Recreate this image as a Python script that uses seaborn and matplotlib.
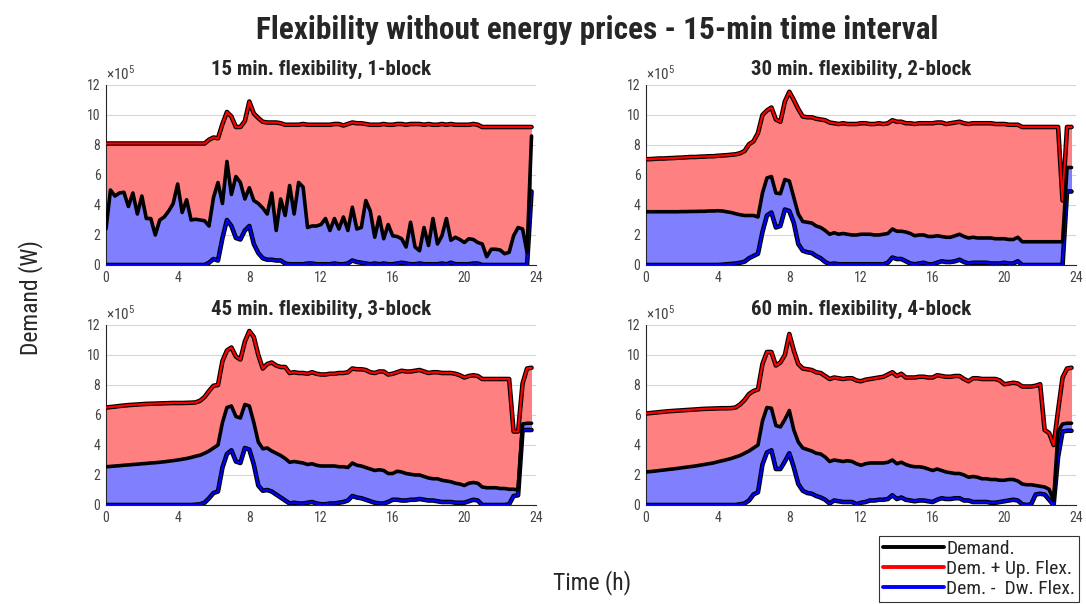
import numpy as np
import pandas as pd
import matplotlib
matplotlib.use("Agg")
import matplotlib.pyplot as plt
import matplotlib.patheffects as pe
from matplotlib import font_manager
from matplotlib.lines import Line2D
import seaborn as sns

# Quarter-hour time steps over one day (h)
hours = np.arange(96) * 0.25

panel_titles = [
    "15 min. flexibility, 1-block",
    "30 min. flexibility, 2-block",
    "45 min. flexibility, 3-block",
    "60 min. flexibility, 4-block",
]

# Values in units of 10^5 W, one row per hour (4 quarter-hours each)
up_1 = [
    8.1, 8.1, 8.1, 8.1,  8.1, 8.1, 8.1, 8.1,  8.1, 8.1, 8.1, 8.1,  8.1, 8.1, 8.1, 8.1,
    8.1, 8.1, 8.1, 8.1,  8.1, 8.1, 8.1, 8.35, 8.5, 8.45, 9.4, 10.2, 9.9, 9.2, 9.2, 9.6,
    10.9, 10.1, 9.8, 9.55, 9.5, 9.5, 9.5, 9.45, 9.35, 9.35, 9.35, 9.35, 9.4, 9.35, 9.35, 9.35,
    9.35, 9.35, 9.35, 9.4, 9.4, 9.3, 9.4, 9.5, 9.45, 9.45, 9.4, 9.35, 9.35, 9.35, 9.4, 9.35,
    9.35, 9.4, 9.4, 9.35, 9.4, 9.4, 9.4, 9.35, 9.4, 9.35, 9.35, 9.4, 9.35, 9.4, 9.35, 9.35,
    9.35, 9.35, 9.4, 9.35, 9.2, 9.2, 9.2, 9.2, 9.2, 9.2, 9.2, 9.2, 9.2, 9.2, 9.2, 9.2,
]
demand_1 = [
    2.4, 5.0, 4.6, 4.8,  4.85, 3.9, 4.8, 3.4,  4.6, 3.1, 3.1, 2.0,  3.0, 3.2, 3.6, 4.1,
    5.4, 3.5, 4.35, 3.0,  3.05, 3.0, 2.95, 2.6,  4.5, 5.5, 4.1, 6.9,  4.7, 5.9, 5.5, 4.4,
    5.15, 4.3, 4.1, 3.8,  3.4, 4.8, 2.3, 4.4,  3.3, 5.3, 3.4, 5.5,  5.2, 2.5, 2.6, 2.6,
    2.7, 3.1, 2.3, 3.1,  2.4, 3.2, 2.3, 3.85,  2.4, 2.5, 4.3, 3.6,  1.85, 3.2, 1.75, 2.7,
    1.95, 1.9, 1.75, 1.2,  2.85, 1.2, 0.95, 2.5,  1.3, 3.1, 1.4, 1.95,  3.1, 1.65, 1.85, 1.7,
    1.5, 1.75, 1.7, 1.5,  1.4, 0.55, 1.05, 1.05,  1.0, 0.75, 0.85, 1.95,  2.5, 2.4, 0.85, 8.6,
]
down_1 = [
    0, 0, 0, 0,  0, 0, 0, 0,  0, 0, 0, 0,  0, 0, 0, 0,
    0, 0, 0, 0,  0, 0, 0, 0.15,  0.4, 0.3, 1.8, 3.0,  2.6, 1.8, 1.7, 2.3,
    2.6, 1.4, 0.8, 0.45,  0.35, 0.35, 0.3, 0.3,  0.1, 0.05, 0.05, 0.05,  0.05, 0.1, 0.1, 0.05,
    0.05, 0.05, 0.05, 0.1,  0.05, 0.05, 0.1, 0.3,  0.2, 0.15, 0.1, 0.05,  0.1, 0.05, 0.1, 0.05,
    0.05, 0.1, 0.15, 0.1,  0.05, 0.05, 0.1, 0.05,  0.05, 0.05, 0.05, 0.1,  0.05, 0.15, 0.05, 0.05,
    0.05, 0.05, 0.1, 0.1,  0, 0, 0, 0,  0, 0, 0, 0,  0, 0, 0, 4.9,
]

up_2 = [
    7.05, 7.06, 7.08, 7.1,  7.1, 7.12, 7.13, 7.15,  7.16, 7.18, 7.2, 7.2,  7.22, 7.23, 7.25, 7.25,
    7.28, 7.3, 7.32, 7.35,  7.38, 7.45, 7.6, 8.05,  8.25, 8.8, 10.0, 10.3,  10.5, 9.7, 9.55, 10.9,
    11.55, 11.0, 10.4, 9.9,  9.85, 9.85, 9.75, 9.7,  9.65, 9.5, 9.45, 9.4,  9.45, 9.4, 9.4, 9.4,
    9.45, 9.45, 9.4, 9.4,  9.45, 9.4, 9.45, 9.65,  9.55, 9.55, 9.45, 9.45,  9.4, 9.45, 9.45, 9.45,
    9.45, 9.5, 9.5, 9.4,  9.45, 9.5, 9.55, 9.45,  9.4, 9.45, 9.45, 9.45,  9.45, 9.45, 9.4, 9.4,
    9.4, 9.35, 9.35, 9.35,  9.2, 9.2, 9.2, 9.2,  9.2, 9.2, 9.2, 9.2,  9.2, 4.3, 9.2, 9.2,
]
demand_2 = [
    3.55, 3.55, 3.55, 3.55,  3.55, 3.55, 3.55, 3.55,  3.56, 3.56, 3.57, 3.57,  3.58, 3.58, 3.6, 3.6,
    3.62, 3.6, 3.55, 3.5,  3.42, 3.35, 3.3, 3.3,  3.3, 3.2, 4.8, 5.8,  5.9, 4.8, 4.75, 5.7,
    5.6, 4.5, 3.4, 2.9,  2.85, 2.8, 2.6, 2.5,  2.3, 2.05, 2.15, 2.05,  2.1, 2.05, 2.0, 2.0,
    2.05, 2.05, 2.05, 2.0,  2.0, 2.05, 2.1, 2.4,  2.25, 2.25, 2.2, 2.1,  1.95, 2.0, 2.0, 1.9,
    1.9, 1.95, 1.9, 1.85,  1.85, 1.95, 2.05, 1.9,  1.8, 1.85, 1.8, 1.8,  1.8, 1.8, 1.75, 1.75,
    1.75, 1.7, 1.7, 1.85,  1.55, 1.55, 1.55, 1.55,  1.55, 1.55, 1.55, 1.55,  1.55, 1.55, 6.5, 6.5,
]
down_2 = [
    0, 0, 0, 0,  0, 0, 0, 0,  0, 0, 0, 0,  0, 0, 0, 0,
    0.0, 0.02, 0.05, 0.07,  0.1, 0.15, 0.22, 0.45,  0.6, 0.75, 2.2, 3.3,  3.5, 2.5, 2.6, 3.7,
    3.6, 2.8, 1.4, 0.95,  0.85, 0.8, 0.6, 0.45,  0.2, 0.05, 0.1, 0.05,  0.05, 0.05, 0.05, 0.05,
    0.05, 0.05, 0.05, 0.05,  0.05, 0.05, 0.15, 0.5,  0.4, 0.4, 0.25, 0.1,  0.05, 0.1, 0.15, 0.05,
    0.05, 0.15, 0.25, 0.2,  0.2, 0.25, 0.35, 0.2,  0.1, 0.15, 0.15, 0.15,  0.15, 0.1, 0.1, 0.1,
    0.15, 0.1, 0.1, 0.25,  0, 0, 0, 0,  0, 0, 0, 0,  0, 0, 4.9, 4.9,
]

up_3 = [
    6.5, 6.53, 6.56, 6.6,  6.63, 6.66, 6.68, 6.7,  6.72, 6.74, 6.75, 6.76,  6.77, 6.78, 6.79, 6.8,
    6.8, 6.8, 6.81, 6.82,  6.84, 6.95, 7.2, 7.6,  7.95, 8.0, 9.6, 10.3,  10.5, 9.9, 9.7, 10.9,
    11.6, 11.2, 10.0, 9.1,  9.4, 9.5, 9.3, 9.2,  9.2, 8.8, 8.85, 8.8,  8.8, 8.75, 8.85, 8.75,
    8.7, 8.7, 8.75, 8.75,  8.8, 8.8, 8.85, 9.1,  9.05, 9.05, 9.0, 8.85,  8.8, 8.9, 8.9, 8.7,
    8.75, 8.85, 8.95, 8.9,  8.9, 8.95, 9.0, 8.9,  8.8, 8.85, 8.85, 8.8,  8.8, 8.8, 8.75, 8.65,
    8.5, 8.6, 8.65, 8.6,  8.4, 8.4, 8.4, 8.4,  8.4, 8.4, 8.4, 4.9,  4.9, 8.1, 9.1, 9.15,
]
demand_3 = [
    2.55, 2.57, 2.6, 2.62,  2.65, 2.67, 2.7, 2.72,  2.75, 2.77, 2.8, 2.82,  2.85, 2.88, 2.92, 2.96,
    3.0, 3.05, 3.1, 3.17,  3.25, 3.32, 3.45, 3.6,  3.8, 4.0, 5.5, 6.5,  6.6, 5.9, 5.8, 6.7,
    6.6, 5.5, 4.2, 3.75,  3.8, 3.6, 3.45, 3.3,  3.1, 2.85, 2.9, 2.85,  2.8, 2.7, 2.75, 2.65,
    2.6, 2.6, 2.6, 2.6,  2.55, 2.55, 2.5, 2.8,  2.65, 2.6, 2.5, 2.4,  2.3, 2.35, 2.3, 2.1,
    2.1, 2.25, 2.2, 2.1,  2.05, 2.0, 2.0, 1.9,  1.8, 1.75, 1.75, 1.65,  1.6, 1.55, 1.45, 1.4,
    1.3, 1.45, 1.5, 1.45,  1.2, 1.15, 1.15, 1.15,  1.1, 1.1, 1.05, 1.05,  1.0, 5.4, 5.45, 5.45,
]
down_3 = [
    0, 0, 0, 0,  0, 0, 0, 0,  0, 0, 0, 0,  0, 0, 0, 0,
    0, 0, 0, 0,  0.02, 0.05, 0.15, 0.45,  0.8, 0.9, 2.5, 3.4,  3.65, 2.9, 2.8, 3.8,
    3.7, 2.7, 1.3, 0.95,  1.0, 0.9, 0.7, 0.5,  0.3, 0.1, 0.15, 0.1,  0.1, 0.15, 0.2, 0.1,
    0.05, 0.05, 0.1, 0.1,  0.15, 0.2, 0.3, 0.6,  0.5, 0.45, 0.35, 0.25,  0.15, 0.1, 0.1, 0.2,
    0.35, 0.35, 0.3, 0.3,  0.35, 0.35, 0.4, 0.35,  0.3, 0.3, 0.25, 0.2,  0.2, 0.2, 0.15, 0.15,
    0.15, 0.25, 0.35, 0.3,  0, 0, 0, 0,  0, 0, 0.05, 0.6,  0.65, 5.0, 5.0, 5.0,
]

up_4 = [
    6.1, 6.13, 6.16, 6.19,  6.22, 6.25, 6.27, 6.29,  6.31, 6.33, 6.35, 6.37,  6.39, 6.41, 6.42, 6.43,
    6.44, 6.45, 6.45, 6.46,  6.5, 6.7, 7.0, 7.4,  7.6, 7.7, 9.4, 10.2,  10.2, 9.3, 9.5, 10.0,
    11.4, 10.3, 9.4, 9.1,  9.05, 9.0, 8.85, 8.8,  8.6, 8.4, 8.5, 8.45,  8.4, 8.45, 8.45, 8.3,
    8.25, 8.35, 8.4, 8.45,  8.5, 8.55, 8.7, 8.85,  8.6, 8.75, 8.5, 8.5,  8.5, 8.55, 8.55, 8.5,
    8.5, 8.65, 8.6, 8.55,  8.55, 8.6, 8.6, 8.4,  8.25, 8.45, 8.45, 8.4,  8.4, 8.4, 8.4, 8.3,
    8.05, 8.1, 8.15, 8.1,  7.9, 7.9, 7.9, 7.95,  8.05, 5.0, 4.8, 4.0,  6.3, 8.5, 9.1, 9.15,
]
demand_4 = [
    2.2, 2.23, 2.26, 2.3,  2.33, 2.37, 2.4, 2.44,  2.48, 2.52, 2.56, 2.6,  2.65, 2.7, 2.75, 2.8,
    2.88, 2.95, 3.02, 3.1,  3.2, 3.3, 3.45, 3.6,  3.8, 4.0, 5.6, 6.5,  6.45, 5.3, 5.2, 5.7,
    6.3, 5.0, 4.2, 3.8,  3.7, 3.6, 3.45, 3.4,  3.2, 2.9, 3.0, 2.95,  2.9, 2.95, 2.9, 2.75,
    2.65, 2.75, 2.8, 2.8,  2.8, 2.8, 2.85, 3.0,  2.75, 2.85, 2.7, 2.6,  2.55, 2.55, 2.5, 2.4,
    2.3, 2.4, 2.3, 2.2,  2.15, 2.1, 2.1, 2.0,  1.85, 1.9, 1.85, 1.75,  1.75, 1.7, 1.7, 1.65,
    1.65, 1.7, 1.7, 1.6,  1.4, 1.35, 1.35, 1.3,  1.25, 1.2, 1.05, 0.3,  4.9, 5.4, 5.45, 5.45,
]
down_4 = [
    0, 0, 0, 0,  0, 0, 0, 0,  0, 0, 0, 0,  0, 0, 0, 0,
    0, 0, 0, 0,  0.0, 0.05, 0.1, 0.3,  0.7, 0.85, 2.7, 3.5,  3.65, 2.4, 2.4, 2.9,
    3.45, 2.5, 1.4, 0.95,  0.8, 0.75, 0.6, 0.5,  0.35, 0.1, 0.3, 0.25,  0.2, 0.2, 0.2, 0.05,
    0.15, 0.2, 0.3, 0.3,  0.35, 0.35, 0.4, 0.65,  0.4, 0.5, 0.35, 0.3,  0.25, 0.3, 0.3, 0.25,
    0.2, 0.35, 0.45, 0.4,  0.4, 0.45, 0.45, 0.3,  0.3, 0.2, 0.2, 0.2,  0.2, 0.15, 0.15, 0.2,
    0.25, 0.3, 0.35, 0.3,  0.05, 0.0, 0.05, 0.7,  0.75, 0.7, 0.35, 0.0,  3.2, 4.9, 4.95, 4.95,
]

panels = [
    (up_1, demand_1, down_1),
    (up_2, demand_2, down_2),
    (up_3, demand_3, down_3),
    (up_4, demand_4, down_4),
]

x_ticks = [0, 4, 8, 12, 16, 20, 24]
y_ticks = [0, 2, 4, 6, 8, 10, 12]
legend_labels = ["Demand.", "Dem. + Up. Flex.", "Dem. -  Dw. Flex."]

sns.set_theme(style="white")
available = {f.name for f in font_manager.fontManager.ttflist}
base_font = "DejaVu Sans"
for cand in ["Roboto Condensed", "Liberation Sans Narrow", "Open Sans Condensed",
             "Noto Sans Condensed", "Roboto"]:
    if cand in available:
        base_font = cand
        break
plt.rcParams["font.family"] = [base_font, "DejaVu Sans"]
plt.rcParams["mathtext.fontset"] = "custom"
plt.rcParams["mathtext.rm"] = base_font

fig = plt.figure(figsize=(10.86, 6.04), dpi=100)

W, H = 1086, 604
boxes = [(106, 85), (646, 85), (106, 325), (646, 325)]  # left, top in px
ax_w, ax_h = 430, 180

RED_FILL = "#ff8080"
BLUE_FILL = "#8080ff"
TICK_GREY = "#444444"
halo = [pe.Stroke(linewidth=3.3, foreground="black"), pe.Normal()]

for (left, top), title, (up, dem, dw) in zip(boxes, panel_titles, panels):
    ax = fig.add_axes([left / W, 1 - (top + ax_h) / H, ax_w / W, ax_h / H])
    df = pd.DataFrame({"h": hours, "up": up, "dem": dem, "dw": dw})

    ax.fill_between(df["h"], df["dem"], df["up"], color=RED_FILL, lw=0, zorder=1)
    ax.fill_between(df["h"], df["dw"], df["dem"], color=BLUE_FILL, lw=0, zorder=1)

    sns.lineplot(data=df, x="h", y="up", ax=ax, color="#ff0000", lw=1.6,
                 path_effects=halo, estimator=None, zorder=3)
    sns.lineplot(data=df, x="h", y="dw", ax=ax, color="#0000ff", lw=1.6,
                 path_effects=halo, estimator=None, zorder=3)
    sns.lineplot(data=df, x="h", y="dem", ax=ax, color="black", lw=2.6,
                 estimator=None, zorder=4)

    ax.set_xlim(0, 24)
    ax.set_ylim(0, 12)
    ax.set_xticks(x_ticks)
    ax.set_yticks(y_ticks)
    ax.set_xlabel("")
    ax.set_ylabel("")
    ax.grid(axis="y", color="#d6d6d6", lw=0.8, zorder=0)
    ax.grid(axis="x", visible=False)
    ax.set_axisbelow(True)
    for side in ("top", "right"):
        ax.spines[side].set_visible(False)
    for side in ("left", "bottom"):
        ax.spines[side].set_color("#262626")
        ax.spines[side].set_linewidth(0.8)
    ax.tick_params(direction="in", length=4, width=0.8, colors="#262626",
                   labelcolor=TICK_GREY, labelsize=10, pad=4)
    ax.text(0.0, 1.012, r"$\times10^5$", transform=ax.transAxes, fontsize=11,
            color=TICK_GREY, ha="left", va="bottom")
    ax.set_title(title, fontsize=15, fontweight="bold", pad=7)

fig.text(0.55, 0.95, "Flexibility without energy prices - 15-min time interval",
         ha="center", va="center", fontsize=22.5, fontweight="bold")
fig.text(0.028, 0.508, "Demand (W)", rotation=90, ha="center", va="center", fontsize=17)
fig.text(0.545, 0.035, "Time (h)", ha="center", va="center", fontsize=17)

handles = [Line2D([], [], color=c, lw=2.8) for c in ("black", "#ff0000", "#0000ff")]
leg = fig.legend(handles, legend_labels, loc="lower right",
                 bbox_to_anchor=(0.994, 0.003), frameon=True, fancybox=False,
                 edgecolor="black", fontsize=14, handlelength=3.1,
                 handletextpad=0.15, labelspacing=0.12, borderpad=0.2,
                 borderaxespad=0.0)
leg.get_frame().set_linewidth(0.8)

fig.savefig("out.png", dpi=100)
